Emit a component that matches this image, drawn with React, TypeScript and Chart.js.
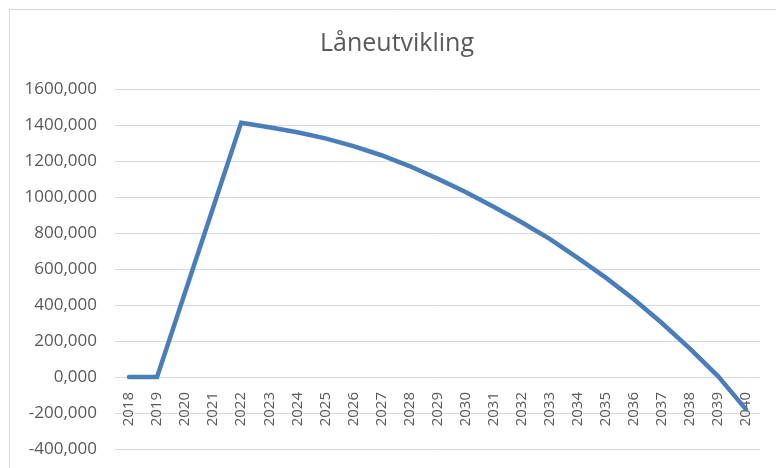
import React, { useEffect, useRef } from "react";
import { Chart, registerables } from "chart.js";

Chart.register(...registerables);

const title = "Låneutvikling";
const years = [
  "2018", "2019", "2020", "2021", "2022", "2023", "2024", "2025", "2026", "2027", "2028", "2029",
  "2030", "2031", "2032", "2033", "2034", "2035", "2036", "2037", "2038", "2039", "2040",
];
const balance = [
  0, 0, 471, 942, 1413, 1388, 1360, 1326, 1283, 1232, 1172, 1102,
  1028, 946, 860, 767, 662, 552, 432, 300, 158, 5, -180,
];
const yTickValues = [-400, -200, 0, 200, 400, 600, 800, 1000, 1200, 1400, 1600];

const textColor = "#595959";
const gridColor = "#d9d9d9";
const lineColor = "#4a7ebb";
const fontFamily = "'Open Sans', 'Liberation Sans', sans-serif";

const borderPlugin = {
  id: "outerBorder",
  afterLayout(chart: any) {
    // let the y tick labels draw to the left of the layout padding
    if (chart.scales.y) chart.scales.y.left = 0;
  },
  beforeDraw(chart: any) {
    const ctx = chart.ctx;
    ctx.save();
    ctx.strokeStyle = gridColor;
    ctx.lineWidth = 1;
    ctx.beginPath();
    ctx.moveTo(9.5, chart.height);
    ctx.lineTo(9.5, 9.5);
    ctx.lineTo(chart.width, 9.5);
    ctx.stroke();
    ctx.restore();
  },
};

export default function App() {
  const canvasRef = useRef<HTMLCanvasElement | null>(null);

  useEffect(() => {
    if (!canvasRef.current) return;
    const chart = new Chart(canvasRef.current, {
      type: "line",
      data: {
        labels: years,
        datasets: [
          {
            label: title,
            data: balance,
            borderColor: lineColor,
            backgroundColor: lineColor,
            borderWidth: 4.5,
            borderCapStyle: "round",
            borderJoinStyle: "miter",
            pointRadius: 0,
            pointHoverRadius: 0,
            tension: 0,
            fill: false,
          },
        ],
      },
      options: {
        responsive: false,
        animation: false,
        layout: { padding: { left: 34, right: 16, top: 0, bottom: 19 } },
        plugins: {
          legend: { display: false },
          tooltip: { enabled: false },
          title: {
            display: true,
            text: title,
            color: textColor,
            font: { family: fontFamily, size: 25, weight: "normal" },
            padding: { top: 29, bottom: 30 },
          },
        },
        scales: {
          x: {
            type: "category",
            position: { y: 0 } as any,
            offset: true,
            grid: { display: false, drawTicks: false },
            border: { display: false },
            afterFit: (scale: any) => {
              scale.paddingLeft = 0;
              scale.paddingRight = 0;
              scale.paddingTop = 0;
              scale.paddingBottom = 0;
            },
            ticks: {
              color: textColor,
              font: { family: fontFamily, size: 15 },
              minRotation: 90,
              maxRotation: 90,
              autoSkip: false,
              padding: 15,
            },
          },
          y: {
            min: -400,
            max: 1600,
            afterBuildTicks: (scale: any) => {
              scale.ticks = yTickValues.map((v) => ({ value: v }));
            },
            afterFit: (scale: any) => {
              scale.width = 81;
              scale.paddingTop = 0;
              scale.paddingBottom = 0;
            },
            grid: { color: gridColor, lineWidth: 1, drawTicks: false },
            border: { display: false },
            ticks: {
              color: textColor,
              font: { family: fontFamily, size: 17 },
              padding: 18,
              callback: (v: any) => Number(v).toFixed(3).replace(".", ","),
            },
          },
        },
      },
      plugins: [borderPlugin],
    });
    return () => chart.destroy();
  }, []);

  return (
    <div style={{ position: "fixed", left: 0, top: 0, width: 776, height: 468, background: "#fff" }}>
      <canvas ref={canvasRef} width={776} height={468} style={{ width: 776, height: 468, display: "block" }} />
    </div>
  );
}
